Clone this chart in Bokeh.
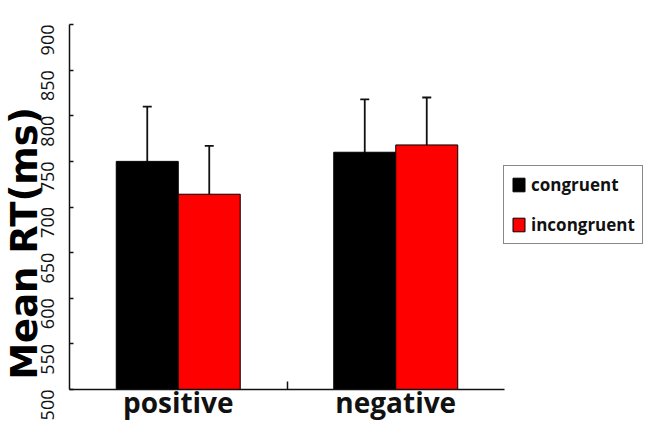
import math
from bokeh.plotting import figure
from bokeh.models import (Range1d, FixedTicker, Legend, LegendItem, Whisker, TeeHead,
                          ColumnDataSource, LinearAxis)
from bokeh.transform import dodge
from bokeh.embed import file_html
from bokeh.resources import INLINE

# ---- data ----
conditions = ["positive", "negative"]
group_pos = [1, 2]
congruent_mean = [750, 760]
incongruent_mean = [714, 768]
congruent_err = [60, 58]
incongruent_err = [53, 52]
y_ticks = [500, 550, 600, 650, 700, 750, 800, 850, 900]
series_names = ["congruent", "incongruent"]
y_title = "Mean RT(ms)"

FONT = "Open Sans"
TITLE_FONT = "DejaVu Sans"
OFF = 0.1425
BW = 0.285

# ---- layout (pixels) ----
W, H = 644, 420
AX_LEFT_PX = 69          # pixel of x = 0.5
PX_PER_X = 217.5
Y_TOP_PX, Y_BOT_PX = 24, 389   # pixels of y = 900 and y = 500
Y_LABEL_CENTER_PX = 243
x_lo, x_hi = 0.5, 2.5
y_lo, y_hi = y_ticks[0], y_ticks[-1]
px_per_y = (Y_BOT_PX - Y_TOP_PX) / (y_hi - y_lo)
xr = Range1d(x_lo - AX_LEFT_PX / PX_PER_X, x_lo + (W - AX_LEFT_PX) / PX_PER_X)
yr = Range1d(y_lo - (H - Y_BOT_PX) / px_per_y, y_hi + Y_TOP_PX / px_per_y)
label_center_val = y_hi - (Y_LABEL_CENTER_PX - Y_TOP_PX) / px_per_y

src_c = ColumnDataSource(dict(
    x=group_pos, top=congruent_mean,
    upper=[m + e for m, e in zip(congruent_mean, congruent_err)],
    lower=[m - e for m, e in zip(congruent_mean, congruent_err)]))
src_i = ColumnDataSource(dict(
    x=group_pos, top=incongruent_mean,
    upper=[m + e for m, e in zip(incongruent_mean, incongruent_err)],
    lower=[m - e for m, e in zip(incongruent_mean, incongruent_err)]))

p = figure(width=W, height=H, x_range=xr, y_range=yr,
           output_backend="svg", toolbar_location=None,
           min_border_left=0, min_border_right=0, min_border_top=0, min_border_bottom=0)
p.grid.visible = False
p.outline_line_color = None

r1 = p.vbar(x=dodge("x", -OFF), top="top", bottom=y_lo, width=BW, source=src_c,
            fill_color="#000000", line_color="#000000", line_width=1)
r2 = p.vbar(x=dodge("x", OFF), top="top", bottom=y_lo, width=BW, source=src_i,
            fill_color="#ff0000", line_color="#000000", line_width=1)

for src, off in ((src_c, -OFF), (src_i, OFF)):
    w = Whisker(source=src, base=dodge("x", off), upper="upper", lower="lower",
                line_color="#111111", line_width=1.8,
                upper_head=TeeHead(size=9, line_color="#111111", line_width=1.8),
                lower_head=TeeHead(size=9, line_color="#111111", line_width=1.8))
    p.add_layout(w)

# y axis
ya = p.yaxis[0]
ya.fixed_location = x_lo
ya.bounds = (y_lo, y_hi)
ya.ticker = FixedTicker(ticks=y_ticks)
ya.major_tick_in = 4
ya.major_tick_out = 0
ya.minor_tick_line_color = None
ya.major_label_orientation = math.pi / 2
ya.major_label_standoff = 22
ya.major_label_text_font = FONT
ya.major_label_text_font_size = "18px"
ya.major_label_text_color = "#111111"
ya.axis_line_width = 1.5
ya.axis_line_color = "#111111"
ya.major_tick_line_color = "#111111"
ya.major_tick_line_width = 1.5

# label-only axis carrying the y title
ta = LinearAxis(fixed_location=x_lo, bounds=(label_center_val - 100, label_center_val + 100),
                ticker=FixedTicker(ticks=[]), axis_line_color=None,
                major_tick_line_color=None, minor_tick_line_color=None,
                axis_label=y_title, axis_label_standoff=24,
                axis_label_text_font=TITLE_FONT, axis_label_text_font_style="bold",
                axis_label_text_font_size="37px", axis_label_text_color="#000000")
p.add_layout(ta, "left")

# x axis
xa = p.xaxis[0]
xa.fixed_location = y_lo
xa.bounds = (x_lo, x_hi)
xa.ticker = FixedTicker(ticks=group_pos, minor_ticks=[1.5])
xa.major_label_overrides = {g: c for g, c in zip(group_pos, conditions)}
xa.major_tick_in = 0
xa.major_tick_out = 0
xa.minor_tick_in = 8
xa.minor_tick_out = 0
xa.minor_tick_line_color = "#111111"
xa.minor_tick_line_width = 1.5
xa.major_label_standoff = -7
xa.major_label_text_font = FONT
xa.major_label_text_font_style = "bold"
xa.major_label_text_font_size = "28px"
xa.major_label_text_color = "#111111"
xa.axis_line_width = 1.5
xa.axis_line_color = "#111111"

legend = Legend(items=[LegendItem(label=series_names[0], renderers=[r1]),
                       LegendItem(label=series_names[1], renderers=[r2])],
                location=(503, 176), glyph_width=15, glyph_height=17, label_standoff=5,
                padding=7, spacing=17, label_height=22, margin=0,
                border_line_color="#111111", border_line_width=1.5,
                label_text_font=FONT, label_text_font_style="bold",
                label_text_font_size="17px", label_text_color="#111111")
p.add_layout(legend)

open("out.html", "w").write(file_html(p, INLINE))
